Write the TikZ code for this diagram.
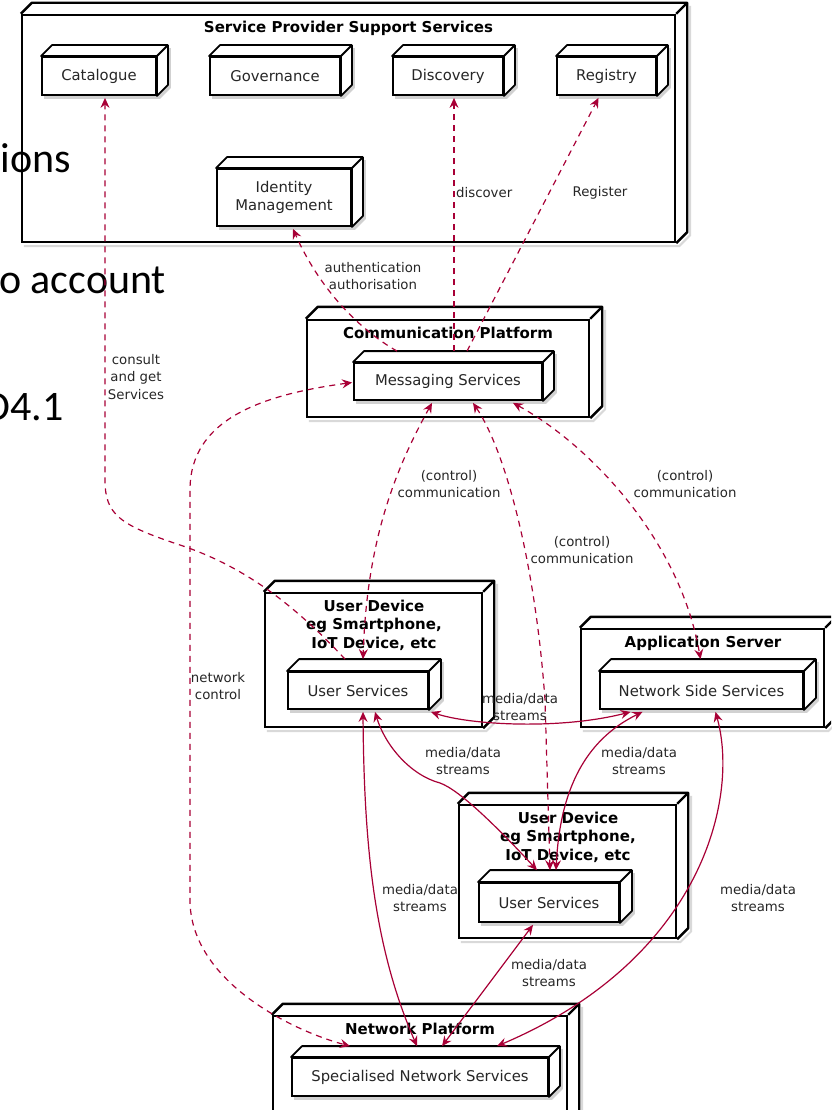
\documentclass[tikz,border=0pt]{standalone}
\usepackage{fontspec}
\setmainfont{DejaVu Sans}
\newfontfamily\slidefont{Carlito}
\usetikzlibrary{arrows.meta,calc}
\pgfdeclarelayer{background}
\pgfsetlayers{background,main}
\definecolor{plred}{HTML}{A80036}

\newcommand{\cube}[2]{%
  \begin{pgfonlayer}{background}
    \fill[black!18,transform canvas={shift={(3pt,-3pt)}}] (#1.south west) -- (#1.north west) -- ++(#2,-#2) -- ($(#1.north east)+(#2,-#2)$) -- ($(#1.south east)+(#2,-#2)$) -- (#1.south east) -- cycle;
  \end{pgfonlayer}
  \draw[line width=1.8pt,fill=white,line join=round] (#1.north west) -- ++(#2,-#2) -- ($(#1.north east)+(#2,-#2)$) -- ($(#1.south east)+(#2,-#2)$) -- (#1.south east) -- (#1.north east) -- cycle;
  \draw[line width=1.8pt] (#1.north east) -- ++(#2,-#2);}

\newcommand{\crate}[2]{%
  \begin{pgfonlayer}{background}
    \draw[black!15,line width=2pt,transform canvas={shift={(3pt,-3pt)}}] (#1.south west) -- (#1.south east) -- ($(#1.south east)+(#2,-#2)$) -- ($(#1.north east)+(#2,-#2)$);
  \end{pgfonlayer}
  \draw[line width=2.4pt,line join=round] (#1.north west) -- ++(#2,-#2) -- ($(#1.north east)+(#2,-#2)$) -- ($(#1.south east)+(#2,-#2)$) -- (#1.south east);
  \draw[line width=2.4pt] (#1.north east) -- ++(#2,-#2);}

\begin{document}
\begin{tikzpicture}
        [x=1pt,y=-1pt,
         >={Stealth[length=10pt,width=9pt,inset=3.5pt]},
         crate/.style={draw,line width=2.4pt,inner sep=0pt},
         part/.style={draw,line width=1.8pt,fill=white,inner sep=0pt,minimum height=38pt,align=center,text=black!85,font=\fontsize{14.8}{17.3}\selectfont},
         title/.style={align=center,inner sep=0pt,font=\bfseries\fontsize{15}{18.5}\selectfont},
         lbl/.style={align=center,inner sep=0pt,text=black!85,font=\fontsize{13.3}{17.3}\selectfont},
         slide/.style={inner sep=0pt,font=\slidefont\fontsize{42}{50}\selectfont},
         flow/.style={draw=plred,line width=1.2pt},
         ctrl/.style={flow,dash pattern=on 6pt off 5pt}]
        \useasboundingbox (0,0) rectangle (831,1110);
        \clip (0,0) rectangle (831,1110);

        \node[slide,anchor=base east] (s1) at (71,173) {ions};
        \node[slide,anchor=base west] (s2) at (-1,293) {o account};
        \node[slide,anchor=base east] (s3) at (64,420) {D4.1};

        \node[crate,minimum width=653pt,minimum height=227pt] (spss) at (348.5,128.5) {};
        \crate{spss}{11}
        \node[title] (tspss) at (348.5,28) {Service Provider Support Services};
        \node[part,minimum width=114pt] (cat) at (99,76) {Catalogue};
        \cube{cat}{11}
        \node[part,minimum width=130pt] (gov) at (275,76) {Governance};
        \cube{gov}{11}
        \node[part,minimum width=110pt] (disc) at (448,76) {Discovery};
        \cube{disc}{11}
        \node[part,minimum width=99pt] (reg) at (606.5,76) {Registry};
        \cube{reg}{11}
        \node[part,minimum width=134pt,minimum height=57pt] (idm) at (284,197.5) {Identity\\Management};
        \cube{idm}{11}

        \node[crate,minimum width=282pt,minimum height=97pt] (comm) at (448,368.5) {};
        \crate{comm}{12}
        \node[title] (tcomm) at (448,333) {Communication Platform};
        \node[part,minimum width=188pt,minimum height=37pt] (msg) at (448,381.5) {Messaging Services};
        \cube{msg}{11}

        \node[crate,minimum width=217pt,minimum height=134pt] (ud1) at (373.5,660) {};
        \crate{ud1}{11}
        \node[title] (tud1) at (374,625) {User Device\\eg Smartphone,\\IoT Device, etc};
        \node[part,minimum width=140pt,minimum height=37pt] (us1) at (358,690.5) {User Services};
        \cube{us1}{12}

        \node[crate,minimum width=243pt,minimum height=98pt] (app) at (702.5,678) {};
        \crate{app}{11}
        \node[title] (tapp) at (703,643) {Application Server};
        \node[part,minimum width=203pt,minimum height=37pt] (nss) at (701.5,690.5) {Network Side Services};
        \cube{nss}{12}

        \node[crate,minimum width=217pt,minimum height=133pt] (ud2) at (567.5,871.5) {};
        \crate{ud2}{11}
        \node[title] (tud2) at (568,837) {User Device\\eg Smartphone,\\IoT Device, etc};
        \node[part,minimum width=140pt,minimum height=39pt] (us2) at (549,902.5) {User Services};
        \cube{us2}{12}

        \node[crate,minimum width=294pt,minimum height=114pt] (np) at (420,1073) {};
        \crate{np}{11}
        \node[title] (tnp) at (420,1029) {Network Platform};
        \node[part,minimum width=256pt] (sns) at (420,1077) {Specialised Network Services};
        \cube{sns}{11}

        \draw[ctrl,->] ($(us1.north)+(-13,-12)$) .. controls (290,600) and (240,565) .. (180,545) .. controls (120,525) and (105,515) .. (105,480) -- ($(cat.south)+(6,2)$);
        \draw[ctrl,->] ($(msg.north)+(-51,-11)$) .. controls (360,330) and (320,290) .. ($(idm.south)+(9,2)$);
        \draw[ctrl,->] ($(msg.north)+(6,-11)$) -- ($(disc.south)+(6,2)$);
        \draw[ctrl,->] ($(msg.north)+(19,-11)$) -- ($(reg.south)+(-8,2)$);
        \draw[ctrl,<->] ($(msg.south)+(-16,2)$) .. controls (395,470) and (367,540) .. ($(us1.north)+(5,-12)$);
        \draw[ctrl,<->] ($(msg.south)+(25,2)$) .. controls (505,450) and (535,560) .. (545,700) -- ($(us2.north)+(1,-12)$);
        \draw[ctrl,<->] ($(msg.south)+(65,2)$) .. controls (590,445) and (680,540) .. ($(nss.north)+(-1,-12)$);
        \draw[ctrl,<->] ($(msg.west)+(-1,1)$) .. controls (260,395) and (190,420) .. (190,490) -- (190,900) .. controls (190,980) and (290,1030) .. ($(sns.north)+(-70,-11)$);

        \draw[flow,<->] ($(us1.south east)+(2,2)$) .. controls (470,725) and (560,730) .. ($(nss.south)+(-71,2)$);
        \draw[flow,<->] ($(us1.south)+(17,2)$) .. controls (385,745) and (410,775) .. (440,783) .. controls (460,790) and (500,830) .. ($(us2.north)+(-12,-12)$);
        \draw[flow,<->] ($(us1.south)+(5,2)$) .. controls (364,850) and (375,950) .. ($(sns.north)+(-3,-11)$);
        \draw[flow,<->] ($(nss.south)+(-59,2)$) .. controls (585,740) and (560,790) .. ($(us2.north)+(7,-12)$);
        \draw[flow,<->] ($(us2.south)+(-16,2)$) -- ($(sns.north)+(22,-11)$);
        \draw[flow,<->] ($(nss.south)+(14,2)$) .. controls (740,800) and (700,960) .. ($(sns.north)+(77,-11)$);

        \node[lbl] (lcons) at (136,377) {consult\\and get\\Services};
        \node[lbl] (lauth) at (373,276) {authentication\\authorisation};
        \node[lbl,anchor=west] (ldisc) at (456,193) {discover};
        \node[lbl] (lreg) at (600,193) {Register};
        \node[lbl] (lctl1) at (449,484) {(control)\\communication};
        \node[lbl] (lctl2) at (582,550) {(control)\\communication};
        \node[lbl] (lctl3) at (685,484) {(control)\\communication};
        \node[lbl] (lnet) at (218,686) {network\\control};
        \node[lbl] (lmd1) at (520,707) {media/data\\streams};
        \node[lbl] (lmd2) at (463,761) {media/data\\streams};
        \node[lbl] (lmd3) at (420,898) {media/data\\streams};
        \node[lbl] (lmd4) at (639,761) {media/data\\streams};
        \node[lbl] (lmd5) at (549,973) {media/data\\streams};
        \node[lbl] (lmd6) at (758,898) {media/data\\streams};
      \end{tikzpicture}
\end{document}
